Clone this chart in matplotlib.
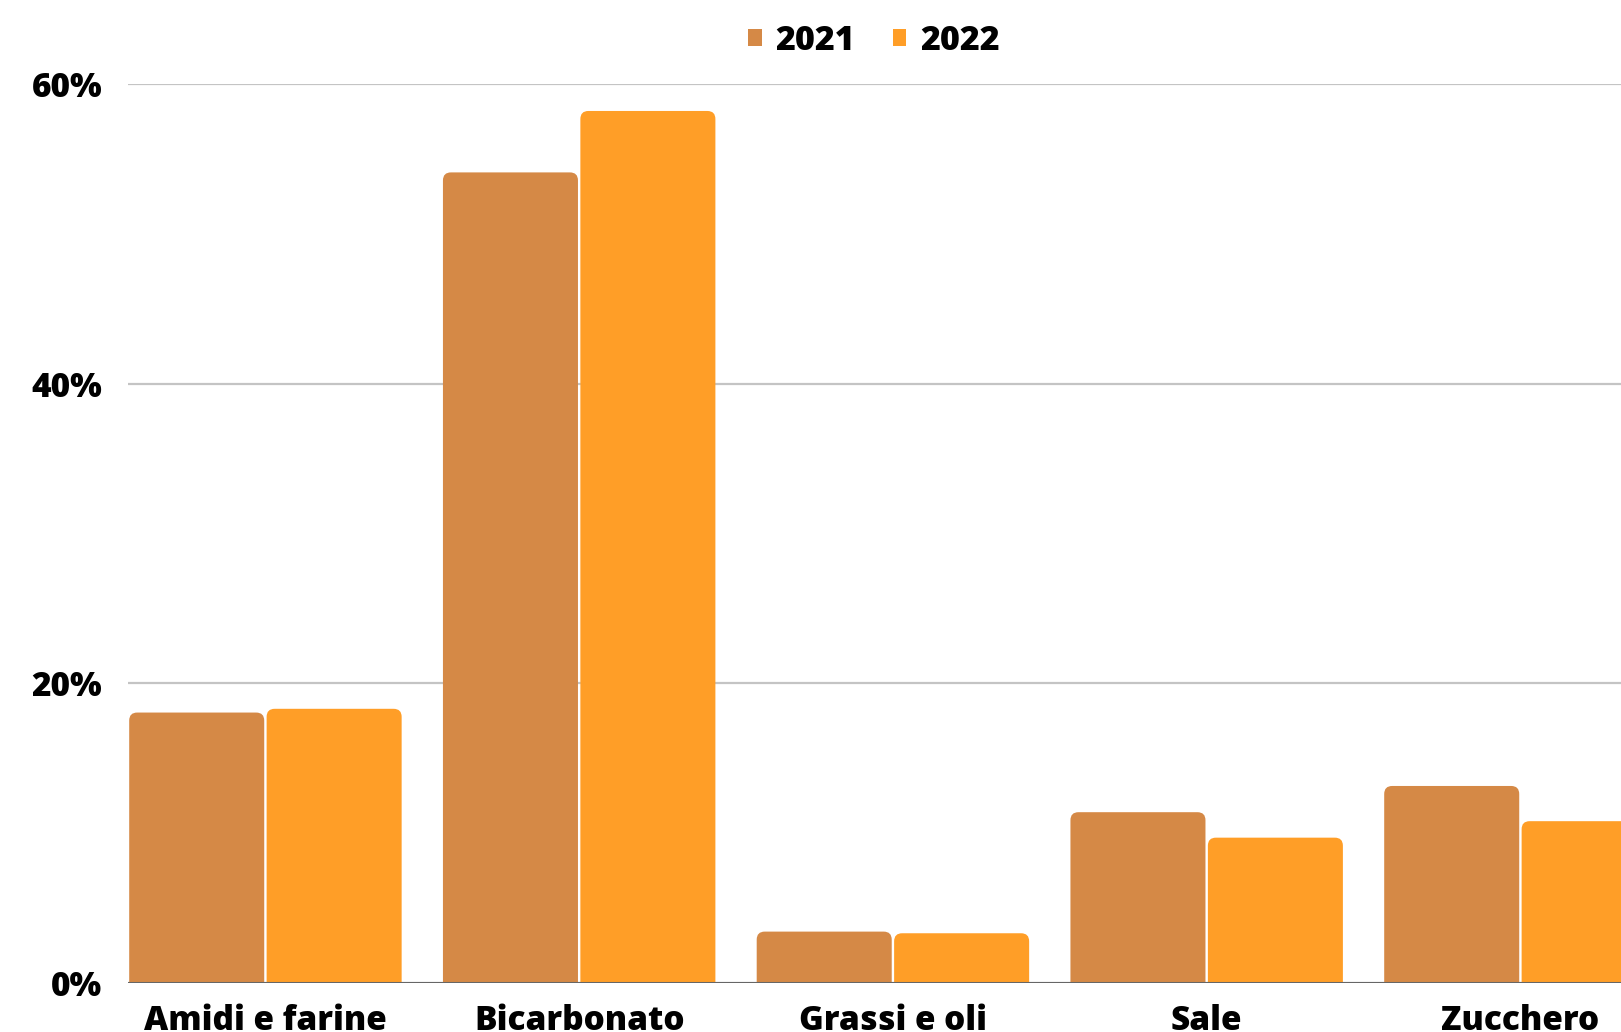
import matplotlib
matplotlib.use("Agg")
import matplotlib.pyplot as plt
from matplotlib.patches import FancyBboxPatch, Patch
from matplotlib.ticker import FuncFormatter
from matplotlib import font_manager
import numpy as np

categories = ["Amidi e farine", "Bicarbonato", "Grassi e oli", "Sale", "Zucchero"]
series_names = ["2021", "2022"]
values_2021 = [18.05, 54.1, 3.43, 11.4, 13.15]
values_2022 = [18.3, 58.2, 3.32, 9.7, 10.8]
yticks = [0, 20, 40, 60]
colors = ["#D58946", "#FF9E27"]

W, H = 1621, 1032
DPI = 100
fig = plt.figure(figsize=(W / DPI, H / DPI), dpi=DPI)
plt.rcParams['font.family'] = ['Open Sans', 'DejaVu Sans']

weights = {f.weight for f in font_manager.fontManager.ttflist if f.name == 'Open Sans'}
WEIGHT = 800 if any(w in (800, 'extra bold', 'heavy') for w in weights) else 'bold'

period_px = 313.75
left_px = 128
bottom_px = 983
top_px = 84
bw = 0.438
xmin = -bw
xmax = xmin + 5
ax = fig.add_axes([left_px / W, (H - bottom_px) / H,
                   5 * period_px / W, (bottom_px - top_px) / H])
ax.set_xlim(xmin, xmax)
ax.set_ylim(0, 60)

x = np.arange(len(categories))
bars1 = ax.bar(x - bw / 2, values_2021, width=bw, color=colors[0], label=series_names[0])
bars2 = ax.bar(x + bw / 2, values_2022, width=bw, color=colors[1], label=series_names[1])

# Replace rectangles by rounded-top patches
rx = 8 / period_px
ry = 8 / ((bottom_px - top_px) / 60)
for bars, col in ((bars1, colors[0]), (bars2, colors[1])):
    for r in bars:
        bx, by, bwid, bh = r.get_x(), r.get_y(), r.get_width(), r.get_height()
        inset = 1.2 / period_px
        p = FancyBboxPatch((bx + inset, by - 2), bwid - 2 * inset, bh + 2,
                           boxstyle=f"round,pad=0,rounding_size={rx}",
                           mutation_aspect=ry / rx,
                           facecolor=col, edgecolor='none', zorder=3)
        ax.add_patch(p)
        r.set_visible(False)

for s in ax.spines.values():
    s.set_visible(False)
ax.axhline(0, color="#666666", lw=2.2, zorder=4)
ax.set_yticks(yticks)
ax.yaxis.set_major_formatter(FuncFormatter(lambda v, p: f"{int(v)}%"))
ax.grid(axis='y', color="#C4C4C4", lw=1.6, zorder=0)
ax.set_axisbelow(True)
ax.tick_params(axis='y', length=0, pad=18.5, labelsize=24)
ax.tick_params(axis='x', length=0, pad=15, labelsize=24)
ax.set_xticks(x)
ax.set_xticklabels(categories)
for lab in ax.get_yticklabels() + ax.get_xticklabels():
    lab.set_fontweight(WEIGHT)

# Legend
handles = [Patch(facecolor=colors[0]), Patch(facecolor=colors[1])]
leg = fig.legend(handles, series_names, loc='center', bbox_to_anchor=(874 / W, 1 - 41 / H),
                 ncol=2, frameon=False, prop={'weight': WEIGHT, 'size': 24.5},
                 handlelength=0.4, handleheight=0.4, handletextpad=0.4, columnspacing=1.1)

fig.savefig("out.png", dpi=DPI)
